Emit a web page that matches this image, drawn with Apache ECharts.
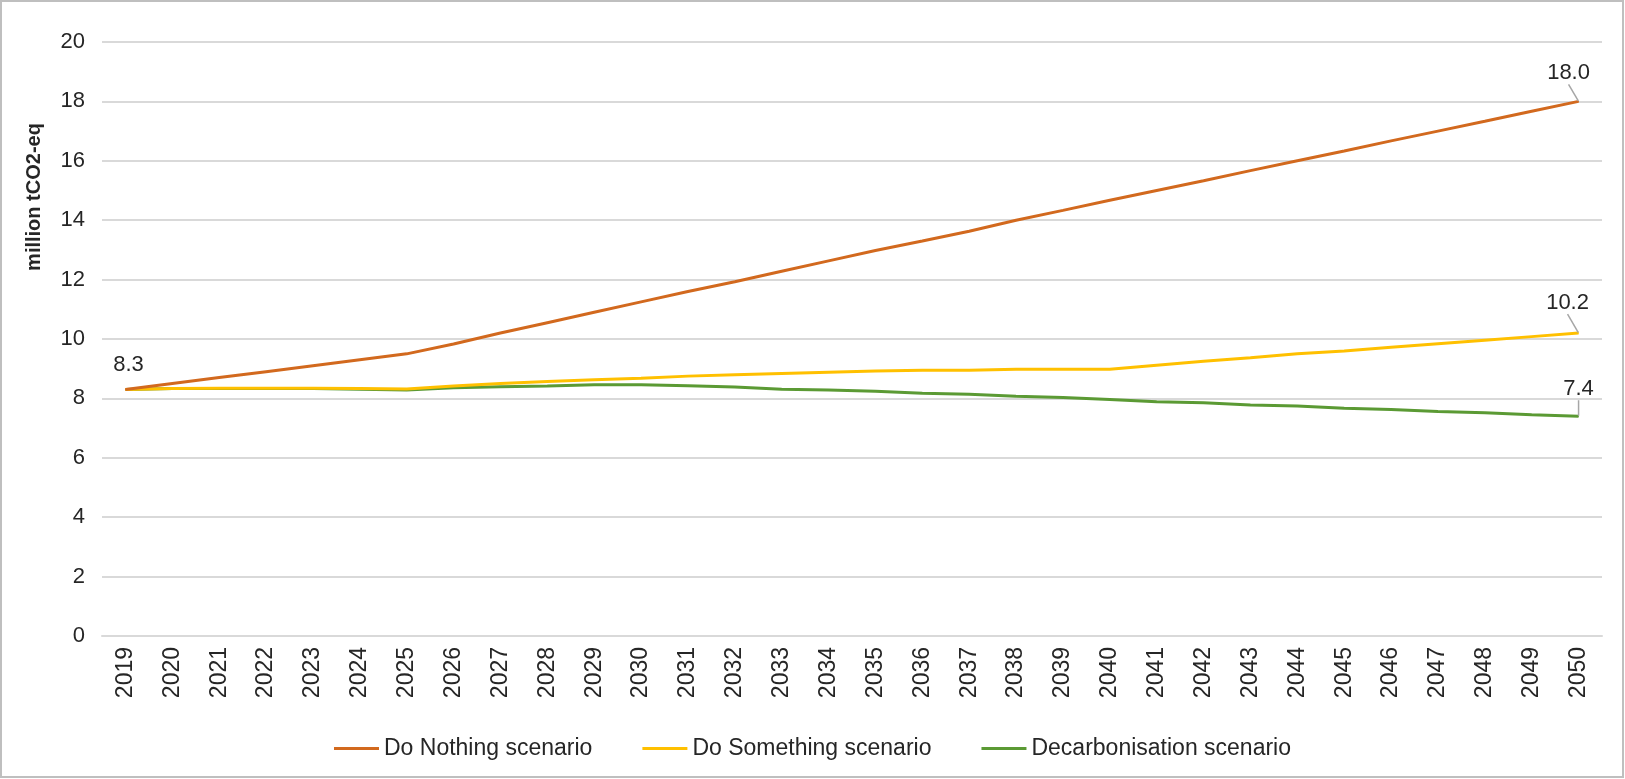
<!DOCTYPE html>
<html>
<head>
<meta charset="utf-8">
<script src="https://cdn.jsdelivr.net/npm/echarts@6/dist/echarts.min.js"></script>
<style>
  html, body { margin: 0; padding: 0; background: #ffffff; }
  #chart { width: 1625px; height: 779px; }
</style>
</head>
<body>
<div id="chart"></div>
<script>
// Years on the category axis
const years = ['2019','2020','2021','2022','2023','2024','2025','2026','2027','2028','2029','2030',
  '2031','2032','2033','2034','2035','2036','2037','2038','2039','2040','2041','2042',
  '2043','2044','2045','2046','2047','2048','2049','2050'];

// Emissions, million tCO2-eq
const doNothing = [8.3, 8.5, 8.7, 8.9, 9.1, 9.3, 9.5, 9.83, 10.2, 10.55, 10.9, 11.25,
  11.6, 11.93, 12.28, 12.63, 12.98, 13.3, 13.63, 14.0, 14.33, 14.67, 15.0, 15.33,
  15.67, 16.0, 16.33, 16.67, 17.0, 17.33, 17.67, 18.0];
const doSomething = [8.3, 8.33, 8.34, 8.34, 8.34, 8.33, 8.32, 8.42, 8.5, 8.57, 8.63, 8.68,
  8.75, 8.8, 8.84, 8.88, 8.92, 8.95, 8.95, 8.98, 8.98, 8.98, 9.12, 9.25,
  9.37, 9.5, 9.6, 9.72, 9.84, 9.96, 10.08, 10.2];
const decarbonisation = [8.3, 8.33, 8.33, 8.33, 8.33, 8.31, 8.28, 8.36, 8.39, 8.42, 8.46, 8.46,
  8.43, 8.38, 8.31, 8.28, 8.24, 8.17, 8.14, 8.07, 8.03, 7.96, 7.89, 7.85,
  7.78, 7.74, 7.67, 7.63, 7.56, 7.52, 7.45, 7.4];

const yTicks = { min: 0, max: 20, interval: 2 };
const seriesNames = ['Do Nothing scenario', 'Do Something scenario', 'Decarbonisation scenario'];
const seriesColors = ['#D2691E', '#FFC000', '#5B9A34'];

const FONT = '"Liberation Sans", Arial, sans-serif';
const TEXT = '#262626';

// Which points carry a value label: first point of the first series, last point of every series
function withLabels(values, labelFirst) {
  const last = values.length - 1;
  return values.map((v, i) => {
    const show = (i === last) || (labelFirst && i === 0);
    if (!show) return v;
    return {
      value: v,
      symbol: 'circle',
      symbolSize: 1,
      label: {
        show: true,
        position: 'inside',
        formatter: (p) => p.value.toFixed(1)
      },
      labelLine: { show: i === last }
    };
  });
}

// Label offsets relative to the point (dx, dy) per series for the final year
const endOffsets = [[-10, -28], [-11, -30], [0, -27]];

const chart = echarts.init(document.getElementById('chart'), null, { renderer: 'canvas' });

const series = [doNothing, doSomething, decarbonisation].map((vals, si) => ({
  name: seriesNames[si],
  type: 'line',
  data: withLabels(vals, si === 0),
  symbol: 'none',
  smooth: false,
  lineStyle: { color: seriesColors[si], width: 3 },
  itemStyle: { color: seriesColors[si] },
  label: {
    color: TEXT,
    fontFamily: FONT,
    fontSize: 22
  },
  labelLine: {
    lineStyle: { color: '#A6A6A6', width: 1.5 }
  },
  labelLayout: (p) => {
    if (p.dataIndex === 0) return { dx: 3, dy: -25 };
    const o = endOffsets[si];
    return { dx: o[0], dy: o[1] };
  },
  z: 3 - si
}));

chart.setOption({
  animation: false,
  backgroundColor: '#ffffff',
  textStyle: { fontFamily: FONT, color: TEXT },
  grid: {
    left: 102, right: 23, top: 42, bottom: 143,
    containLabel: false,
    outerBoundsMode: 'none'
  },
  legend: {
    data: seriesNames.map((n, i) => ({ name: n, itemStyle: { color: seriesColors[i] } })),
    left: 'center',
    top: 732,
    icon: 'rect',
    itemWidth: 45,
    itemHeight: 3,
    itemGap: 50,
    textStyle: { fontFamily: FONT, fontSize: 23, color: TEXT }
  },
  xAxis: {
    type: 'category',
    data: years,
    boundaryGap: true,
    axisLine: { show: true, lineStyle: { color: '#D9D9D9', width: 2 } },
    axisTick: { show: false },
    axisLabel: {
      rotate: 90,
      margin: 11,
      interval: 0,
      fontFamily: FONT,
      fontSize: 23,
      color: TEXT
    },
    splitLine: { show: false }
  },
  yAxis: {
    type: 'value',
    min: yTicks.min,
    max: yTicks.max,
    interval: yTicks.interval,
    axisLine: { show: false },
    axisTick: { show: false },
    axisLabel: { margin: 17, fontFamily: FONT, fontSize: 22, color: TEXT },
    splitLine: { lineStyle: { color: '#D9D9D9', width: 2 } }
  },
  graphic: [
    {
      type: 'rect',
      shape: { x: 1, y: 1, width: 1622, height: 776 },
      style: { fill: 'none', stroke: '#BFBFBF', lineWidth: 2 },
      silent: true
    },
    {
      type: 'text',
      x: 34,
      y: 197,
      rotation: Math.PI / 2,
      style: {
        text: 'million tCO2-eq',
        fontFamily: FONT,
        fontSize: 20,
        fontWeight: 'bold',
        fill: TEXT,
        align: 'center',
        verticalAlign: 'middle'
      },
      silent: true
    }
  ],
  series: series
});
</script>
</body>
</html>
